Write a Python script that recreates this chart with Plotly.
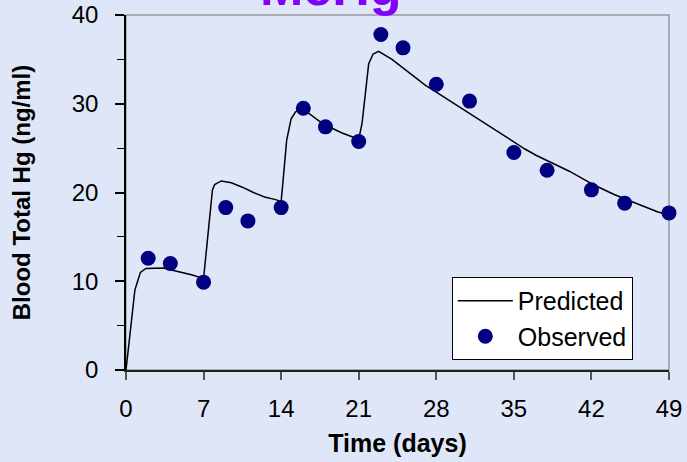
import plotly.graph_objects as go

# Observed data (days, ng/ml)
obs_t = [2, 4, 7, 9, 11, 14, 16, 18, 21, 23, 25, 28, 31, 35, 38, 42, 45, 49]
obs_y = [12.6, 12.0, 9.9, 18.3, 16.8, 18.3, 29.5, 27.4, 25.75, 37.8, 36.3, 32.2,
         30.3, 24.5, 22.5, 20.3, 18.8, 17.7]

# Predicted model curve
pred_t = [0, 0.5, 0.8, 1.0, 1.3, 1.8, 2.5, 3.4, 4, 5, 6, 7,
          7.3, 7.6, 7.8, 8.0, 8.6, 9.5, 10.5, 11.5, 12.5, 13.5, 14.0,
          14.15, 14.5, 14.9, 15.3, 15.7, 16.5, 17.5, 18.5, 19.5, 20.5, 21.0,
          21.3, 21.6, 21.9, 22.3, 22.8, 24, 25, 26, 27, 28, 29, 30, 31, 32,
          33, 34, 35, 36, 37, 38, 39, 40, 41, 42, 43, 44, 45, 46, 47, 48, 49]
pred_y = [0, 5.5, 9.0, 9.8, 11.0, 11.45, 11.5, 11.5, 11.3, 11.0, 10.7, 10.3,
          14.0, 18.5, 20.3, 20.9, 21.3, 21.1, 20.6, 20.0, 19.5, 19.2, 19.0,
          21.0, 25.9, 28.3, 29.1, 29.3, 28.9, 28.0, 27.3, 26.7, 26.2, 26.0,
          27.8, 31.5, 34.5, 35.6, 35.9, 35.0, 34.0, 33.0, 32.1, 31.3, 30.5,
          29.7, 28.9, 28.1, 27.3, 26.4, 25.6, 24.9, 24.2, 23.6, 23.0, 22.4,
          21.7, 21.0, 20.4, 19.8, 19.3, 18.8, 18.3, 17.8, 17.5]

x_ticks = [0, 7, 14, 21, 28, 35, 42, 49]
y_ticks = [0, 10, 20, 30, 40]

title_text = "MeHg"
x_title = "Time (days)"
y_title = "Blood Total Hg (ng/ml)"

FONT = "Liberation Sans, Arial, sans-serif"

fig = go.Figure()
fig.add_trace(go.Scatter(x=pred_t, y=pred_y, mode="lines", name="Predicted",
                         line=dict(color="black", width=1.5)))
fig.add_trace(go.Scatter(x=obs_t, y=obs_y, mode="markers", name="Observed",
                         marker=dict(color="#000080", size=15, line=dict(width=0)),
                         cliponaxis=False))

fig.update_layout(
    width=687, height=462,
    margin=dict(l=126, r=18, t=15, b=92, autoexpand=False),
    paper_bgcolor="#DFE6F7", plot_bgcolor="#DFE6F7",
    font=dict(family=FONT, color="black", size=24),
    showlegend=True,
    legend=dict(x=0.6, y=0.262, xanchor="left", yanchor="top",
                bgcolor="white", bordercolor="black", borderwidth=1,
                font=dict(size=25, family=FONT), itemwidth=55,
                tracegroupgap=0),
    shapes=[dict(type="rect", xref="paper", yref="paper", x0=0, y0=0, x1=1, y1=1,
                 line=dict(color="#999999", width=1.5), layer="below")],
    annotations=[dict(text="<b>" + title_text + "</b>", xref="paper", yref="paper",
                      x=0.3775, y=1.0, xanchor="center", yanchor="bottom", yshift=-3,
                      showarrow=False,
                      font=dict(size=52, color="#7F00FF", family=FONT))],
)

fig.update_xaxes(range=[0, 49], tickvals=x_ticks, ticktext=[str(v) for v in x_ticks],
                 showgrid=False, zeroline=False, showline=True, linecolor="#222222",
                 linewidth=1.5, ticks="outside", ticklen=8, tickcolor="#555555",
                 tickwidth=1.5, ticklabelstandoff=8, automargin=False,
                 tickfont=dict(size=24, family=FONT),
                 title=dict(text="<b>" + x_title + "</b>", font=dict(size=25, family=FONT),
                            standoff=14))
fig.update_yaxes(range=[0, 40], tickvals=y_ticks, ticktext=[str(v) for v in y_ticks],
                 showgrid=False, zeroline=False, showline=True, linecolor="black",
                 linewidth=1.5, ticks="outside", ticklen=9, tickcolor="black",
                 tickwidth=1.5, ticklabelstandoff=12, automargin=False,
                 minor=dict(tickvals=[5, 15, 25, 35], ticks="outside", ticklen=7,
                            tickcolor="black", tickwidth=1),
                 tickfont=dict(size=24, family=FONT),
                 title=dict(text="<b>" + y_title + "</b>", font=dict(size=24, family=FONT),
                            standoff=34))

fig.write_html("out.html")
